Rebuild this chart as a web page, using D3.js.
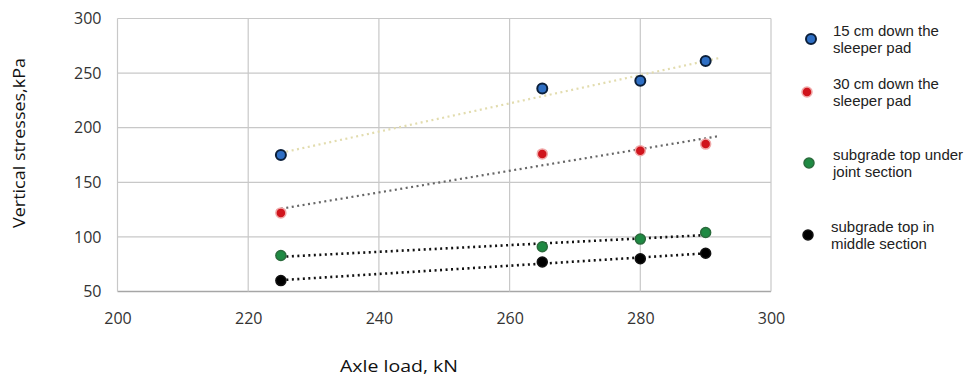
<!DOCTYPE html>
<html><head><meta charset="utf-8">
<script src="https://cdn.jsdelivr.net/npm/d3@7"></script>
<style>body{margin:0;background:#fff}svg{display:block}</style>
</head><body>
<svg id="c" width="972" height="375"></svg>
<script>
const axleLoads = [225, 265, 280, 290];
const seriesNames = ["15 cm down the|sleeper pad", "30 cm down the|sleeper pad", "subgrade top under|joint section", "subgrade top in|middle section"];
const s15cm = [175, 236, 243, 261];
const s30cm = [122, 176, 179, 185];
const sJoint = [83, 91, 98, 104];
const sMiddle = [60, 77, 80, 85];
const xTicks = [200, 220, 240, 260, 280, 300];
const yTicks = [50, 100, 150, 200, 250, 300];
const trendEnds = [292, 292, 290, 290];

const fills = ["#2f6fc4", "#d0141c", "#1f8a43", "#000"];
const strokes = ["#0b1f3a", "#f0a8a8", "#2a6b3c", "#111"];
const trendCols = ["#e2dcae", "#666", "#111", "#111"];
const trendW = [2.2, 2.2, 2.6, 2.6];
const allSeries = [s15cm, s30cm, sJoint, sMiddle];

const svg = d3.select("#c");
const x = d3.scaleLinear().domain([200, 300]).range([117.5, 771]);
const y = d3.scaleLinear().domain([50, 300]).range([291.5, 18.5]);

// grid
svg.append("g").selectAll("line").data(yTicks).join("line")
  .attr("x1", x(200)).attr("x2", x(300)).attr("y1", d => y(d)).attr("y2", d => y(d))
  .attr("stroke", d => d === 50 ? "#a6a6a6" : "#c8c8c8").attr("stroke-width", d => d === 50 ? 1.5 : 1.2);
svg.append("g").selectAll("line").data(xTicks).join("line")
  .attr("y1", y(50)).attr("y2", y(300)).attr("x1", d => x(d)).attr("x2", d => x(d))
  .attr("stroke", "#c8c8c8").attr("stroke-width", 1.2);

const xa = svg.append("g").attr("transform", `translate(0,${y(50)})`)
  .call(d3.axisBottom(x).tickValues(xTicks).tickSize(0).tickPadding(21));
xa.select(".domain").remove();
xa.selectAll("text").attr("font-family", "Open Sans, sans-serif").attr("font-size", 16).attr("fill", "#333");
const ya = svg.append("g").attr("transform", `translate(${x(200)},0)`)
  .call(d3.axisLeft(y).tickValues(yTicks).tickSize(0).tickPadding(16));
ya.select(".domain").remove();
ya.selectAll("text").attr("font-family", "Open Sans, sans-serif").attr("font-size", 16).attr("fill", "#333");

svg.append("text").attr("x", 399).attr("y", 371.5).attr("text-anchor", "middle")
  .attr("font-family", "Open Sans, sans-serif").attr("font-size", 16.5).attr("fill", "#111")
  .attr("textLength", 118).attr("lengthAdjust", "spacingAndGlyphs").text("Axle load, kN");
svg.append("text").attr("transform", "translate(25,143) rotate(-90)").attr("text-anchor", "middle")
  .attr("font-family", "Open Sans, sans-serif").attr("font-size", 16.5).attr("fill", "#111")
  .attr("textLength", 170).attr("lengthAdjust", "spacingAndGlyphs").text("Vertical stresses,kPa");

// trendlines (least squares fit of each series)
allSeries.forEach((vals, i) => {
  const mx = d3.mean(axleLoads), my = d3.mean(vals);
  const sxy = d3.sum(axleLoads, (a, k) => (a - mx) * (vals[k] - my));
  const sxx = d3.sum(axleLoads, a => (a - mx) ** 2);
  const b = sxy / sxx, a0 = my - b * mx;
  const x0 = axleLoads[0], x1 = trendEnds[i];
  svg.append("line").attr("x1", x(x0)).attr("x2", x(x1))
    .attr("y1", y(a0 + b * x0)).attr("y2", y(a0 + b * x1))
    .attr("stroke", trendCols[i]).attr("stroke-width", trendW[i])
    .attr("stroke-dasharray", "2,3.5");
});

// points
allSeries.forEach((vals, i) => {
  svg.append("g").selectAll("circle").data(vals).join("circle")
    .attr("cx", (d, k) => x(axleLoads[k])).attr("cy", d => y(d))
    .attr("r", 5).attr("fill", fills[i]).attr("stroke", strokes[i]).attr("stroke-width", i === 0 ? 2 : 1.5);
});

// legend
const legY = [39, 92, 163, 235];
const legX = [811, 807, 809, 808];
const leg = svg.append("g");
seriesNames.forEach((nm, i) => {
  leg.append("circle").attr("cx", legX[i]).attr("cy", legY[i]).attr("r", 5)
    .attr("fill", fills[i]).attr("stroke", strokes[i]).attr("stroke-width", i === 0 ? 2 : 1.5);
  const t = leg.append("text").attr("x", 833).attr("y", legY[i] - 3)
    .attr("font-family", "Liberation Sans, Arial, sans-serif").attr("font-size", 15).attr("fill", "#222");
  nm.split("|").forEach((ln, j) => {
    t.append("tspan").attr("x", i === 3 ? 831 : 833).attr("dy", j === 0 ? 0 : 17).text(ln);
  });
});
</script>
</body></html>
